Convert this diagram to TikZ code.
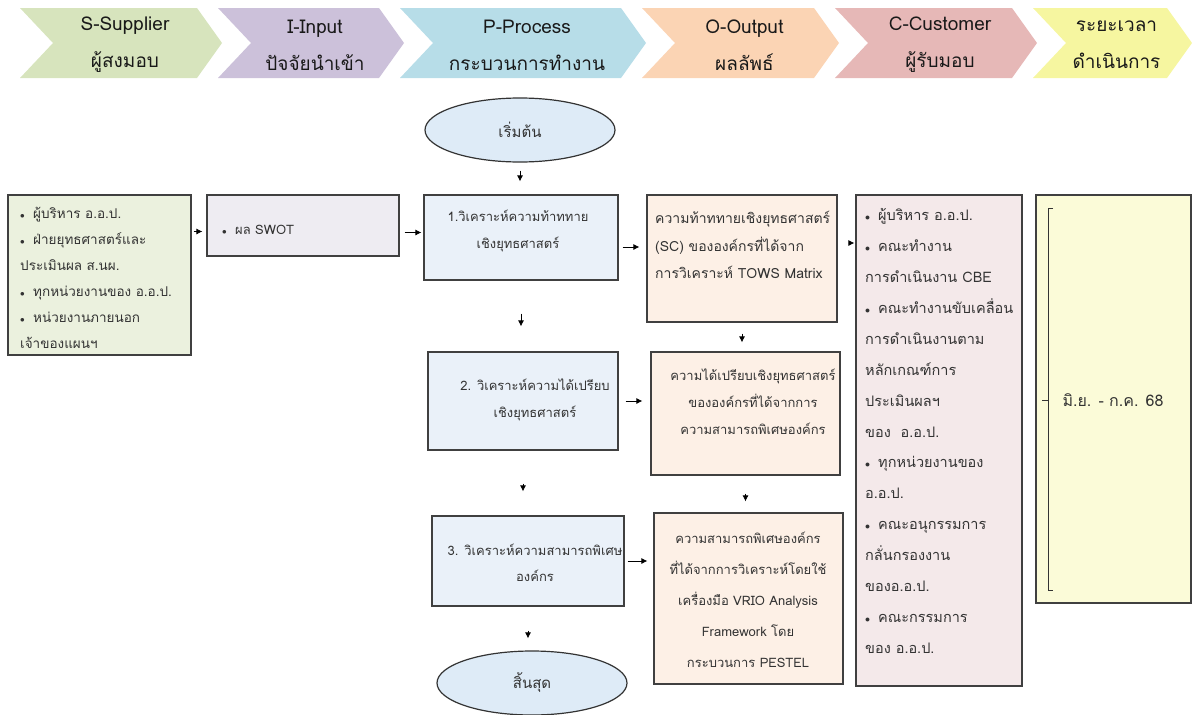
\documentclass[tikz,border=0pt]{standalone}
\usepackage{fontspec}
\setmainfont[Script=Thai]{Loma}
\usepackage{tikz}
\usetikzlibrary{shapes.geometric}
\usetikzlibrary{arrows.meta}
\usetikzlibrary{calc}
\usetikzlibrary{positioning}
\definecolor{hdrGreen}{RGB}{215,228,189}
\definecolor{hdrPurple}{RGB}{204,193,218}
\definecolor{hdrBlue}{RGB}{183,221,232}
\definecolor{hdrOrange}{RGB}{251,212,180}
\definecolor{hdrRed}{RGB}{230,184,183}
\definecolor{hdrYellow}{RGB}{246,246,160}
\definecolor{colorSup}{RGB}{235,241,222}
\definecolor{colorInp}{RGB}{238,236,242}
\definecolor{colorProc}{RGB}{234,241,249}
\definecolor{colorOval}{RGB}{222,235,247}
\definecolor{colorOut}{RGB}{253,240,230}
\definecolor{colorCus}{RGB}{244,233,234}
\definecolor{colorTim}{RGB}{251,251,216}
\newcommand{\bul}{\makebox[13pt][l]{$\scriptstyle\bullet$}}
\tikzset{
   every path/.style={>={Latex[length=6pt,width=6pt]}},
   hdr/.style={font=\fontsize{19}{37}\selectfont,align=center,text=black!90},
   box/.style={draw=black!75,line width=1.2pt,inner sep=0pt},
   term/.style={ellipse,draw=black!80,line width=1.2pt,fill=colorOval,
     font=\fontsize{15}{18}\selectfont,text=black!80},
   txt/.style={font=\fontsize{13}{27}\selectfont,align=left,inner sep=0pt,text=black!80},
   txtc/.style={txt,align=center},
   flow/.style={->,black,line width=0.8pt},
}

\begin{document}
\begin{tikzpicture}[x=1pt,y=-1pt]

  \useasboundingbox (0,0) rectangle (1195,715);

  \foreach \xl/\xr/\col/\ta/\tb [count=\i] in {20/222/hdrGreen/S-Supplier/ผู้สงมอบ,
      218/404/hdrPurple/I-Input/ปัจจัยนำเข้า, 400/646/hdrBlue/P-Process/กระบวนการทำงาน,
      642/839/hdrOrange/O-Output/ผลลัพธ์, 835/1037/hdrRed/C-Customer/ผู้รับมอบ,
      1033/1192/hdrYellow/ระยะเวลา/ดำเนินการ}
  {
    \fill[\col] (\xl,8) -- ({\xr-25},8) -- (\xr,43) -- ({\xr-25},78) -- (\xl,78) -- ({\xl+33},43) -- cycle;
    \node[hdr] (hdr\i) at ({(\xl+\xr)/2+4},45) {\ta\\\tb};
  }

  \node[box, fill=colorSup,  minimum width=183pt, minimum height=160pt] (sup) at (99.5,275)   {};
  \node[box, fill=colorInp,  minimum width=192pt, minimum height=61pt]  (inp) at (303,225.5)  {};

  \node[term, minimum width=190pt, minimum height=64pt] (start) at (520,130) {เริ่มต้น};
  \node[box, fill=colorProc, minimum width=194pt, minimum height=85pt]  (p1)  at (521,237.5)  {};
  \node[box, fill=colorProc, minimum width=190pt, minimum height=98pt]  (p2)  at (523,401)    {};
  \node[box, fill=colorProc, minimum width=192pt, minimum height=90pt]  (p3)  at (528,561)    {};
  \node[term, minimum width=190pt, minimum height=64pt] (stop) at (532,683) {สิ้นสุด};

  \node[box, fill=colorOut,  minimum width=190pt, minimum height=127pt] (o1)  at (742,258.5)  {};
  \node[box, fill=colorOut,  minimum width=189pt, minimum height=123pt] (o2)  at (745.5,413.5){};
  \node[box, fill=colorOut,  minimum width=189pt, minimum height=171pt] (o3)  at (748.5,598.5){};

  \node[box, fill=colorCus,  minimum width=166pt, minimum height=491pt] (cus) at (939,440.5)  {};
  \node[box, fill=colorTim,  minimum width=155pt, minimum height=408pt] (tim) at (1113.5,399) {};

  % texts
  \node[txt, anchor=west, font=\fontsize{13.5}{26}\selectfont] (supT) at (20,278) {\bul ผู้บริหาร อ.อ.ป.\\
    \bul ฝ่ายยุทธศาสตร์และ\\ ประเมินผล ส.นผ.\\ \bul ทุกหน่วยงานของ อ.อ.ป.\\ \bul หน่วยงานภายนอก\\ เจ้าของแผนฯ};
  \node[txt, anchor=west] (inpT) at (222,230) {\bul ผล SWOT};
  \node[txtc] (p1T) at (518,231) {1.วิเคราะห์ความท้าททาย\\ เชิงยุทธศาสตร์};
  \node[txtc] (p2T) at (535,400) {2. วิเคราะห์ความได้เปรียบ\\ เชิงยุทธศาสตร์};
  \node[txtc, font=\fontsize{13}{26}\selectfont] (p3T) at (535,563) {3. วิเคราะห์ความสามารถพิเศษ\\ องค์กร};
  \node[txt, anchor=west, font=\fontsize{14}{27.5}\selectfont] (o1T) at (655,245) {ความท้าททายเชิงยุทธศาสตร์\\
    (SC) ขององค์กรที่ได้จาก\\ การวิเคราะห์ TOWS Matrix};
  \node[txtc] (o2T) at (753,402) {ความได้เปรียบเชิงยุทธศาสตร์\\ ขององค์กรที่ได้จากการ\\ ความสามารถพิเศษองค์กร};
  \node[txtc, font=\fontsize{13}{31}\selectfont] (o3T) at (748,600) {ความสามารถพิเศษองค์กร\\
    ที่ได้จากการวิเคราะห์โดยใช้\\ เครื่องมือ VRIO Analysis\\ Framework โดย\\ กระบวนการ PESTEL};
  \node[txt, anchor=west, font=\fontsize{14.5}{30.9}\selectfont] (cusT) at (865,431) {\bul ผู้บริหาร อ.อ.ป.\\
    \bul คณะทำงาน\\ การดำเนินงาน CBE\\ \bul คณะทำงานขับเคลื่อน\\ การดำเนินงานตาม\\
    หลักเกณฑ์การ\\ ประเมินผลฯ\\ ของ\ \ อ.อ.ป.\\ \bul ทุกหน่วยงานของ\\ อ.อ.ป.\\
    \bul คณะอนุกรรมการ\\ กลั่นกรองงาน\\ ของอ.อ.ป.\\ \bul คณะกรรมการ\\ ของ อ.อ.ป.};
  \node[txtc, font=\fontsize{16}{20}\selectfont] (timT) at (1113,400) {มิ.ย. - ก.ค. 68};

  % bracket in the time box
  \draw[black!80, line width=1pt] (1053,208) -- (1048,208) -- (1048,590) -- (1053,590);
  \draw[black!80, line width=1pt] (1048,400) -- (1042,400);

  % arrows
  \draw[flow, shorten <=2pt, shorten >=4pt] ([yshift=-6pt]sup.east |- inp.west) -- ([yshift=-6pt]inp.west);
  \draw[flow, shorten <=5pt, shorten >=2pt] ([yshift=-7pt]inp.east) -- ([yshift=-7pt]inp.east -| p1.west);
  \draw[flow, shorten <=8pt, shorten >=13pt] (start.south) -- (start.south |- p1.north);
  \draw[flow, shorten <=4pt, shorten >=7pt] ([yshift=-9.5pt]p1.east) -- ([yshift=-9.5pt]p1.east -| o1.west);
  \draw[flow, shorten <=11pt, shorten >=1pt] ([yshift=15.5pt]o1.east) -- ([yshift=15.5pt]o1.east -| cus.west);

  \draw[flow, shorten <=33pt, shorten >=25pt] (p1.south) -- (p1.south |- p2.north);
  \draw[flow, shorten <=11pt, shorten >=9pt]  (o1.south) -- (o1.south |- o2.north);
  \draw[flow, shorten <=7pt,  shorten >=8pt]  (p2.east)  -- (p2.east -| o2.west);

  \draw[flow, shorten <=33pt, shorten >=24pt] (p2.south) -- (p2.south |- p3.north);
  \draw[flow, shorten <=18pt, shorten >=11pt] (o2.south) -- (o2.south |- o3.north);
  \draw[flow, shorten <=3pt,  shorten >=6pt]  (p3.east)  -- (p3.east -| o3.west);
  \draw[flow, shorten <=24pt, shorten >=12pt] (p3.south) -- (p3.south |- stop.north);

\end{tikzpicture}
\end{document}
